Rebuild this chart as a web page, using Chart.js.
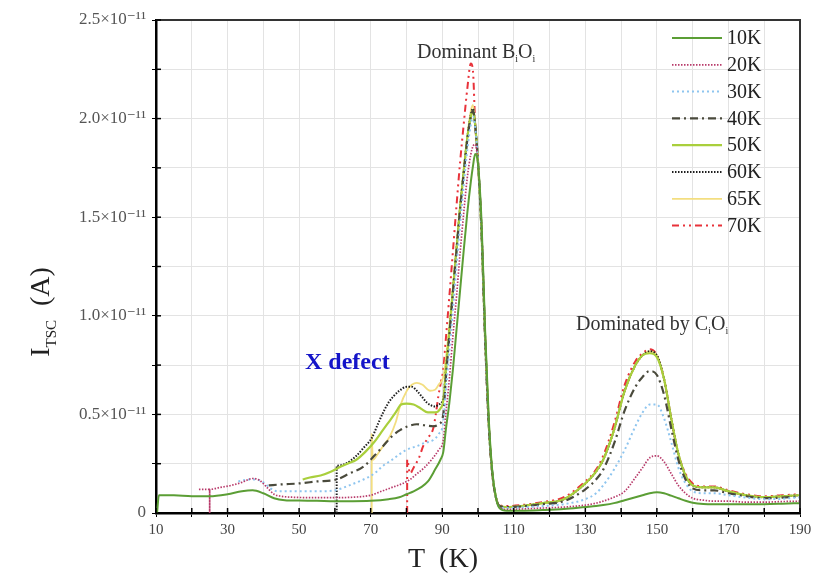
<!DOCTYPE html>
<html><head><meta charset="utf-8">
<script src="https://cdn.jsdelivr.net/npm/chart.js@4/dist/chart.umd.min.js"></script>
<style>html,body{margin:0;padding:0;background:#fff;}#wrap{width:831px;height:577px;position:relative;}</style>
</head><body><div id="wrap"><canvas id="c" width="831" height="577"></canvas></div>
<script>
// ---------- data (T in K, I in units of 1e-11 A) ----------
const SERIES_LABELS = ['10K','20K','30K','40K','50K','60K','65K','70K'];
const X_MIN = 10, X_MAX = 190, X_STEP = 10, X_LABEL_STEP = 20;
const Y_MIN = 0, Y_MAX = 2.5, Y_STEP = 0.25, Y_LABEL_STEP = 0.5;

// shared temperature grid above 91 K
const T_TAIL = [91,92,93,94,95,96,97,98,98.6,99.2,100,101,102,103,104,105,106,108,112,118,124,130,133,135,138,141,144,146,148,150,152,154,156,158,160,163,166,170,175,180,185,190];

const T_10K_HEAD = [10.3,10.8,15,20,25,30,34,37,40,43,46,50,55,60,65,70,75,78,80,82,84,86,88,89.5,90.3];
const I_10K_HEAD = [0,0.09,0.09,0.085,0.085,0.095,0.11,0.115,0.1,0.075,0.065,0.063,0.062,0.06,0.06,0.062,0.07,0.08,0.095,0.11,0.13,0.16,0.22,0.27,0.31];
const I_10K_TAIL = [0.42,0.56,0.73,0.93,1.13,1.33,1.52,1.68,1.76,1.82,1.77,1.47,0.92,0.48,0.21,0.08,0.025,0.012,0.012,0.015,0.02,0.03,0.035,0.04,0.05,0.065,0.08,0.09,0.1,0.105,0.1,0.088,0.075,0.062,0.052,0.046,0.045,0.045,0.045,0.045,0.047,0.05];

const T_20K_HEAD = [22,25,25,25,28,31,34,37,39,41,43,45,48,55,60,65,70,73,76,79,81,83,85,87,89,90.3];
const I_20K_HEAD = [0.12,0.12,0,0.12,0.13,0.14,0.155,0.175,0.165,0.13,0.095,0.085,0.08,0.078,0.078,0.08,0.09,0.11,0.13,0.15,0.17,0.2,0.23,0.27,0.32,0.37];
const I_20K_TAIL = [0.5,0.68,0.9,1.1,1.32,1.52,1.7,1.82,1.86,1.87,1.77,1.45,0.9,0.46,0.2,0.08,0.03,0.018,0.02,0.025,0.03,0.04,0.05,0.06,0.08,0.11,0.18,0.23,0.28,0.29,0.26,0.2,0.14,0.1,0.075,0.065,0.06,0.06,0.055,0.055,0.058,0.06];

const T_30K_HEAD = [33,36,38,40,42,44,48,55,60,64,68,71,73.5,76,78.2,80,83,85,87.5,89,90.3];
const I_30K_HEAD = [0.16,0.17,0.17,0.155,0.125,0.11,0.11,0.11,0.115,0.14,0.17,0.2,0.24,0.27,0.3,0.32,0.34,0.355,0.37,0.4,0.46];
const I_30K_TAIL = [0.62,0.82,1.03,1.25,1.46,1.66,1.84,1.97,2.01,1.96,1.78,1.42,0.88,0.45,0.2,0.08,0.03,0.025,0.028,0.035,0.045,0.07,0.1,0.14,0.22,0.32,0.44,0.51,0.55,0.55,0.48,0.36,0.23,0.15,0.11,0.1,0.1,0.09,0.078,0.07,0.072,0.08];

const T_40K_HEAD = [41.5,45,50,55,60.5,64,68,71,73.5,76,78.2,80.5,82.9,85,87.5,89,90.3];
const I_40K_HEAD = [0.14,0.145,0.15,0.16,0.17,0.2,0.235,0.29,0.34,0.39,0.42,0.44,0.45,0.445,0.44,0.45,0.5];
const I_40K_TAIL = [0.68,0.9,1.12,1.33,1.54,1.72,1.89,2.01,2.04,1.97,1.78,1.42,0.88,0.45,0.2,0.08,0.035,0.03,0.033,0.045,0.06,0.12,0.17,0.22,0.35,0.52,0.64,0.69,0.72,0.7,0.6,0.43,0.27,0.17,0.125,0.115,0.115,0.1,0.085,0.075,0.078,0.085];

const T_50K_HEAD = [51,53,56,59,61,63.5,66,68.5,71,73,75,77,78.5,80,82,84,86,88,89.5,90.3];
const I_50K_HEAD = [0.17,0.18,0.19,0.21,0.23,0.25,0.27,0.31,0.36,0.41,0.46,0.51,0.55,0.555,0.55,0.53,0.51,0.51,0.53,0.57];
const I_50K_TAIL = [0.72,0.92,1.13,1.34,1.55,1.73,1.9,2.01,2.04,1.97,1.78,1.42,0.88,0.45,0.2,0.08,0.035,0.03,0.035,0.05,0.07,0.15,0.21,0.27,0.42,0.62,0.75,0.8,0.81,0.79,0.68,0.48,0.3,0.19,0.14,0.13,0.13,0.11,0.09,0.08,0.085,0.09];

const T_60K_HEAD = [60.5,60.5,63,66,68,70.3,72,73.5,75,76.3,78,80.1,81.5,82.9,84.3,85.7,87,88,89,90.3];
const I_60K_HEAD = [0,0.24,0.25,0.29,0.33,0.38,0.45,0.51,0.56,0.59,0.62,0.64,0.64,0.62,0.59,0.56,0.545,0.54,0.55,0.58];
const I_60K_TAIL = [0.72,0.92,1.13,1.34,1.55,1.73,1.9,2.02,2.05,1.97,1.78,1.42,0.88,0.45,0.2,0.08,0.035,0.03,0.035,0.05,0.07,0.15,0.21,0.27,0.42,0.62,0.75,0.8,0.82,0.8,0.68,0.48,0.3,0.19,0.14,0.13,0.13,0.11,0.09,0.08,0.085,0.09];

const T_65K_HEAD = [70.3,70.3,70.6,72,73.5,75.4,77,78.2,80.1,81.5,82.9,84.5,86.6,88,89,90.3];
const I_65K_HEAD = [0,0.4,0.27,0.3,0.34,0.39,0.46,0.54,0.62,0.65,0.66,0.65,0.62,0.625,0.65,0.69];
const I_65K_TAIL = [0.78,0.95,1.15,1.35,1.56,1.74,1.91,2.04,2.07,1.98,1.78,1.42,0.88,0.45,0.2,0.08,0.035,0.03,0.035,0.05,0.07,0.15,0.21,0.27,0.42,0.62,0.75,0.8,0.82,0.8,0.68,0.48,0.3,0.19,0.14,0.13,0.13,0.11,0.09,0.08,0.085,0.09];

const T_70K_HEAD = [80.2,80.2,81,82,83.5,84.7,86,87.5,88.2,88.9,89.6,90.3];
const I_70K_HEAD = [0,0.27,0.2,0.23,0.28,0.34,0.38,0.43,0.5,0.59,0.66,0.73];
const I_70K_TAIL = [0.88,1.1,1.33,1.56,1.78,1.97,2.15,2.28,2.24,1.98,1.78,1.42,0.88,0.45,0.2,0.08,0.04,0.035,0.04,0.055,0.08,0.16,0.22,0.29,0.45,0.65,0.77,0.81,0.83,0.8,0.68,0.48,0.3,0.2,0.15,0.135,0.135,0.115,0.095,0.085,0.09,0.095];

// ---------- styles ----------
const COLORS = ['#5b9e35','#b83a6a','#8ec5ef','#4a4a3c','#a9cf3c','#1e1e1e','#f3de80','#e8323a'];
const DASHES = [[],[1.5,1.5],[2,3],[8,4,2,4],[],[1.5,1.5],[],[7,4,2,4,2,4]];
const WIDTHS = [2,1.7,2,2.2,2.2,2,1.8,2];

const HEADS_T = [T_10K_HEAD,T_20K_HEAD,T_30K_HEAD,T_40K_HEAD,T_50K_HEAD,T_60K_HEAD,T_65K_HEAD,T_70K_HEAD];
const HEADS_I = [I_10K_HEAD,I_20K_HEAD,I_30K_HEAD,I_40K_HEAD,I_50K_HEAD,I_60K_HEAD,I_65K_HEAD,I_70K_HEAD];
const TAILS_I = [I_10K_TAIL,I_20K_TAIL,I_30K_TAIL,I_40K_TAIL,I_50K_TAIL,I_60K_TAIL,I_65K_TAIL,I_70K_TAIL];

const datasets = SERIES_LABELS.map((lab, k) => {
  const T = HEADS_T[k].concat(T_TAIL);
  const I = HEADS_I[k].concat(TAILS_I[k]);
  return {
    label: lab,
    data: T.map((t, j) => ({x: t, y: I[j]})),
    borderColor: COLORS[k],
    backgroundColor: COLORS[k],
    borderDash: DASHES[k],
    borderWidth: WIDTHS[k],
    pointRadius: 0,
    fill: false,
    cubicInterpolationMode: 'monotone'
  };
});

const SERIF = '"Liberation Serif", "DejaVu Serif", serif';

function drawSubText(ctx, parts, x, y) {
  let cx = x;
  parts.forEach(p => {
    ctx.font = p[1] + 'px ' + SERIF;
    ctx.fillText(p[0], cx, y + p[2]);
    cx += ctx.measureText(p[0]).width;
  });
}
function measureParts(ctx, parts) {
  let w = 0;
  parts.forEach(p => { ctx.font = p[1] + 'px ' + SERIF; w += ctx.measureText(p[0]).width; });
  return w;
}

const decor = {
  id: 'decor',
  afterDraw(chart) {
    const ctx = chart.ctx, a = chart.chartArea;
    const xs = chart.scales.x, ys = chart.scales.y;
    ctx.save();
    ctx.strokeStyle = '#333'; ctx.lineWidth = 2;
    ctx.beginPath();
    ctx.moveTo(a.left, a.top); ctx.lineTo(a.right, a.top); ctx.lineTo(a.right, a.bottom);
    ctx.stroke();
    ctx.strokeStyle = '#000'; ctx.lineWidth = 1.5;
    for (let v = Y_MIN; v <= Y_MAX + 1e-9; v += Y_STEP) {
      const py = ys.getPixelForValue(v);
      ctx.beginPath(); ctx.moveTo(a.left, py); ctx.lineTo(a.left + 5, py); ctx.stroke();
    }
    for (let v = X_MIN; v <= X_MAX; v += X_STEP) {
      const px = xs.getPixelForValue(v);
      ctx.beginPath(); ctx.moveTo(px, a.bottom); ctx.lineTo(px, a.bottom - 5); ctx.stroke();
    }
    ctx.textBaseline = 'middle';
    chart.data.datasets.forEach((ds, k) => {
      const y = 38 + k * 26.8;
      ctx.strokeStyle = ds.borderColor; ctx.lineWidth = ds.borderWidth;
      ctx.setLineDash(ds.borderDash);
      ctx.beginPath(); ctx.moveTo(672, y); ctx.lineTo(722, y); ctx.stroke();
      ctx.setLineDash([]);
      ctx.fillStyle = '#222'; ctx.font = '20px ' + SERIF; ctx.textAlign = 'left';
      ctx.fillText(ds.label, 727, y + 1);
    });
    ctx.textBaseline = 'alphabetic'; ctx.textAlign = 'left'; ctx.fillStyle = '#333';
    drawSubText(ctx, [['Dominant B',20,0],['i',10,4],['O',20,0],['i',10,4]], 417, 58);
    drawSubText(ctx, [['Dominated by C',20,0],['i',10,4],['O',20,0],['i',10,4]], 576, 330);
    ctx.fillStyle = '#1414c8'; ctx.font = 'bold 24px ' + SERIF;
    ctx.fillText('X defect', 305, 369);
    ctx.fillStyle = '#222';
    ctx.font = '28px ' + SERIF; ctx.textAlign = 'center';
    ctx.fillText('T  (K)', 443, 567);
    ctx.save();
    ctx.translate(49, 312); ctx.rotate(-Math.PI / 2);
    ctx.textAlign = 'left';
    const parts = [['I',28,0],['TSC',15,7],['  (A)',28,0]];
    const w = measureParts(ctx, parts);
    drawSubText(ctx, parts, -w / 2, 0);
    ctx.restore();
    ctx.restore();
  }
};

new Chart(document.getElementById('c'), {
  type: 'line',
  data: { datasets },
  options: {
    responsive: false, animation: false, devicePixelRatio: 1,
    layout: { padding: { left: 0, top: 20, right: 31, bottom: 0 } },
    plugins: { legend: { display: false }, tooltip: { enabled: false } },
    scales: {
      x: {
        type: 'linear', min: X_MIN, max: X_MAX,
        afterFit: s => { s.height = 64; },
        grid: { color: '#e3e3e3', lineWidth: 1, tickLength: 4, tickColor: '#000' },
        border: { color: '#000', width: 2.5 },
        ticks: {
          stepSize: X_STEP, autoSkip: false, maxRotation: 0, padding: 4,
          color: '#444', font: { family: SERIF, size: 15 },
          callback: v => ((v - X_MIN) % X_LABEL_STEP === 0 ? String(v) : '')
        }
      },
      y: {
        type: 'linear', min: Y_MIN, max: Y_MAX,
        afterFit: s => { s.width = 156; },
        grid: { color: '#e3e3e3', lineWidth: 1, tickLength: 4, tickColor: '#000' },
        border: { color: '#000', width: 2.5 },
        ticks: {
          stepSize: Y_STEP, autoSkip: false, padding: 6,
          color: '#555', font: { family: SERIF, size: 17 },
          callback: v => {
            const r = Math.round(v * 100) / 100;
            if (Math.abs(r / Y_LABEL_STEP - Math.round(r / Y_LABEL_STEP)) > 1e-6) return '';
            return r === 0 ? '0' : r.toFixed(1) + '×10⁻¹¹';
          }
        }
      }
    }
  },
  plugins: [decor]
});
</script></body></html>
